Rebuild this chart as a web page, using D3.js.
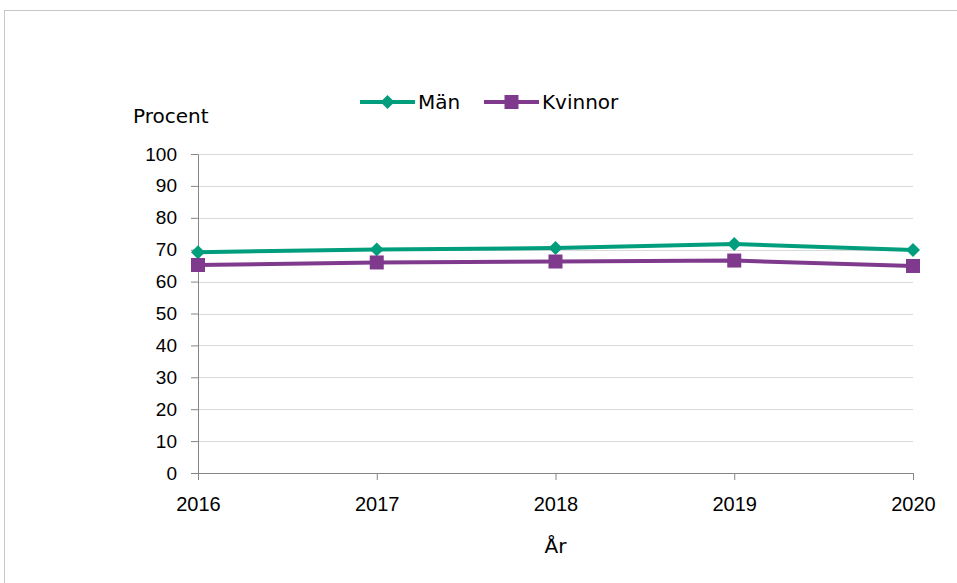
<!DOCTYPE html>
<html>
<head>
<meta charset="utf-8">
<script src="https://cdn.jsdelivr.net/npm/d3@7"></script>
<style>
  body { margin: 0; background: #fff; }
  svg { display: block; font-family: "DejaVu Sans", Verdana, sans-serif; }
</style>
</head>
<body>
<svg id="chart" width="957" height="583"></svg>
<script>
const years = [2016, 2017, 2018, 2019, 2020];
const man = [69.2, 70.1, 70.5, 71.8, 69.9];
const kvinnor = [65.2, 66.0, 66.3, 66.6, 64.9];
const yTicks = [0, 10, 20, 30, 40, 50, 60, 70, 80, 90, 100];

const series = [
  { name: "Män", values: man, color: "#009E7D", marker: "diamond" },
  { name: "Kvinnor", values: kvinnor, color: "#7F3A8E", marker: "square" }
];

let svg = d3.select("#chart");
let margin = { top: 154, right: 44, bottom: 110, left: 198 };
let width = 957 - margin.left - margin.right;
let height = 583 - margin.top - margin.bottom;

// outer frame
svg.append("rect")
  .attr("x", 4.5).attr("y", 10.5)
  .attr("width", 960).attr("height", 600)
  .attr("fill", "none")
  .attr("stroke", "#c8c8c8");

let g = svg.append("g")
  .attr("transform", `translate(${margin.left},${margin.top})`);

let x = d3.scalePoint().domain(years).range([0, width]);
let y = d3.scaleLinear().domain([0, 100]).range([height, 0]);

// gridlines
g.selectAll(".grid")
  .data(yTicks.filter(d => d > 0))
  .enter()
  .append("line")
  .attr("x1", 0).attr("x2", width)
  .attr("y1", d => Math.round(y(d)) + 0.5)
  .attr("y2", d => Math.round(y(d)) + 0.5)
  .attr("stroke", "#d9d9d9");

// y axis
let yAxis = g.append("g")
  .call(d3.axisLeft(y).tickValues(yTicks).tickSize(7).tickPadding(14).tickSizeOuter(0));
yAxis.select(".domain").attr("stroke", "#868686");
yAxis.selectAll(".tick line").attr("stroke", "#868686");
yAxis.selectAll("text")
  .style("font-size", "19px")
  .attr("fill", "#000");

// x axis
let xAxis = g.append("g")
  .attr("transform", `translate(0,${height})`)
  .call(d3.axisBottom(x).tickSize(7).tickPadding(17).tickSizeOuter(0));
xAxis.select(".domain").attr("stroke", "#868686");
xAxis.selectAll(".tick line").attr("stroke", "#868686");
xAxis.selectAll("text")
  .style("font-size", "20px")
  .attr("fill", "#000");

// axis titles
svg.append("text")
  .attr("x", 133).attr("y", 123)
  .style("font-size", "20px")
  .text("Procent");

svg.append("text")
  .attr("x", margin.left + width / 2).attr("y", 553)
  .attr("text-anchor", "middle")
  .style("font-size", "20px")
  .text("År");

// lines
let line = d3.line()
  .x((d, i) => x(years[i]))
  .y(d => y(d));

function drawMarker(sel, type, color) {
  if (type === "diamond") {
    sel.append("path")
      .attr("d", "M0,-7L7,0L0,7L-7,0Z")
      .attr("fill", color);
  } else {
    sel.append("rect")
      .attr("x", -7).attr("y", -7)
      .attr("width", 14).attr("height", 14)
      .attr("fill", color);
  }
}

series.forEach(s => {
  g.append("path")
    .datum(s.values)
    .attr("fill", "none")
    .attr("stroke", s.color)
    .attr("stroke-width", 4)
    .attr("d", line);

  g.selectAll(".m-" + s.marker)
    .data(s.values)
    .enter()
    .append("g")
    .attr("class", "m-" + s.marker)
    .attr("transform", (d, i) => `translate(${x(years[i])},${y(d)})`)
    .each(function() { drawMarker(d3.select(this), s.marker, s.color); });
});

// legend
let legendPos = [360, 484];
series.forEach((s, i) => {
  let lg = svg.append("g").attr("transform", `translate(${legendPos[i]},102)`);
  lg.append("line")
    .attr("x1", 0).attr("x2", 55)
    .attr("stroke", s.color)
    .attr("stroke-width", 4);
  let m = lg.append("g").attr("transform", "translate(27.5,0)");
  drawMarker(m, s.marker, s.color);
  lg.append("text")
    .attr("x", 58).attr("y", 7)
    .style("font-size", "20px")
    .text(s.name);
});
</script>
</body>
</html>
